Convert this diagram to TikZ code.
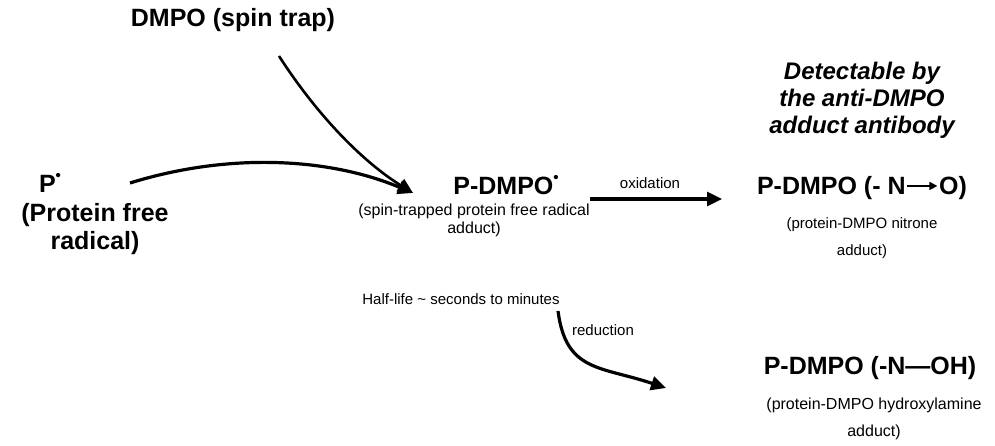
\documentclass[tikz,border=0pt]{standalone}
\usepackage{fontspec}
\setmainfont{Liberation Sans}
\usetikzlibrary{arrows.meta}
\newcommand{\rad}{\raisebox{0.5em}{\fontsize{15}{15}\selectfont•}}
\newcommand{\inarrow}{\tikz[x=1pt,y=1pt,baseline=0pt]\draw[line width=1.6pt,-{Triangle[length=8pt,width=8pt]}] (0,8.5) -- (30,8.5);}
\begin{document}
\begin{tikzpicture}[x=1pt,y=-1pt,
  big/.style={font=\fontsize{25}{28}\selectfont\bfseries, inner sep=0pt, align=center},
  ital/.style={font=\fontsize{24}{27}\selectfont\bfseries\itshape, inner sep=0pt, align=center},
  small/.style={font=\fontsize{15}{27}\selectfont, inner sep=0pt, align=center},
  conn/.style={line width=3.2pt, -{Triangle[length=15pt,width=14pt]}}]
\path[use as bounding box, fill=white] (0,0) rectangle (995,446);

\node[big] (dmpo) at (233,20) {DMPO (spin trap)};
\node[big] (p) at (50,183) {P\rad};
\node[big] (pl) at (95,229) {(Protein free\\radical)};
\node[big] (pd) at (506,185) {P-DMPO\rad};
\node[small, font=\fontsize{16}{18}\selectfont] (pdl) at (474,220) {(spin-trapped protein free radical\\adduct)};
\node[small] (hl) at (461,299) {Half-life \textasciitilde\ seconds to minutes};
\node[big] (no) at (862,188) {P-DMPO (- N\kern1pt\inarrow\kern1pt O)};
\node[small] (nol) at (862,238) {(protein-DMPO nitrone\\adduct)};
\node[ital] (det) at (862,100) {Detectable by\\the anti-DMPO\\adduct antibody};
\node[big] (oh) at (870,368) {P-DMPO (-N—OH)};
\node[small, font=\fontsize{16}{27}\selectfont] (ohl) at (874,419) {(protein-DMPO hydroxylamine\\adduct)};
\node[small] (ox) at (650,183) {oxidation};
\node[small] (red) at (603,330) {reduction};

\coordinate (pstart) at (130,183);
\coordinate (dstart) at (279,56);
\coordinate (tip) at (413,193);
\coordinate (oxs) at (590,199);
\coordinate (oxe) at (722,199);
\coordinate (rs) at (558,311);
\coordinate (re) at (666,388);

\draw[conn] (pstart) .. controls (230,152) and (330,158) .. (tip);
\draw[conn, line width=2.6pt] (dstart) .. controls (315,112) and (360,160) .. (tip);
\draw[conn] (oxs) -- (oxe);
\draw[conn] (rs) .. controls (566,372) and (600,366) .. (re);
\end{tikzpicture}
\end{document}
